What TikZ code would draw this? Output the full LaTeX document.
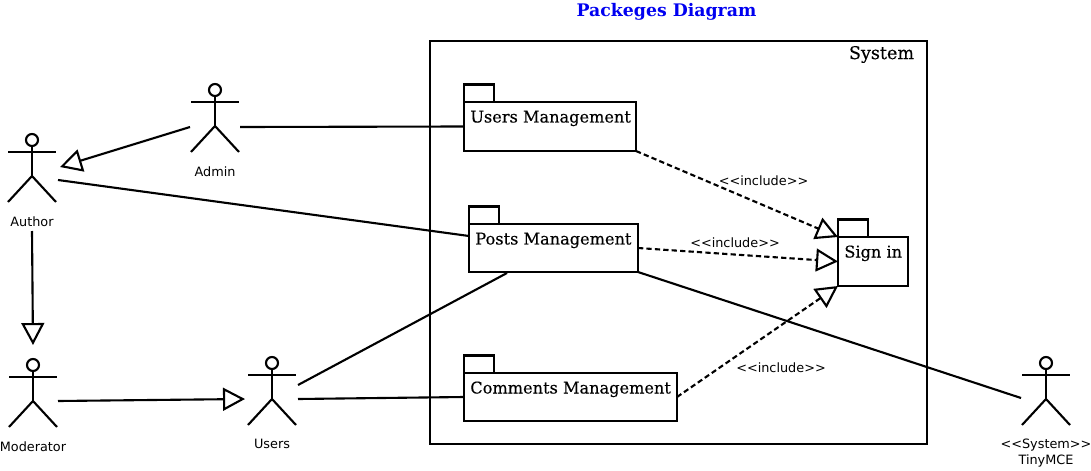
\documentclass[tikz,border=0pt]{standalone}
\usepackage{fontspec}
\setmainfont{DejaVu Serif}
\setsansfont{DejaVu Sans}
\newfontface\pkgfont[FakeBold=0.3]{DejaVu Serif}
\usetikzlibrary{arrows.meta}
\definecolor{titleblue}{RGB}{0,0,240}
\tikzset{
    line/.style={line width=1.2pt},
    inherit/.style={line, -{Triangle[open,length=12.5pt,width=13pt,line width=1.2pt]}},
    include/.style={inherit, dash pattern=on 3pt off 1.8pt},
    pkgbody/.style={draw, line width=1.2pt, inner sep=0pt, outer sep=0pt, anchor=north west},
    pkgtab/.style={draw, line width=1.2pt, inner sep=0pt, outer sep=0pt, anchor=south west, minimum width=0.6cm, minimum height=0.35cm},
    pkgname/.style={anchor=base west, inner sep=0pt, xshift=0.12cm, yshift=-0.41cm, font=\pkgfont\fontsize{9.2}{11}\selectfont},
    actorname/.style={font=\sffamily\fontsize{7.3}{9}\selectfont, align=center, inner sep=0pt},
    stereo/.style={font=\sffamily\fontsize{7.3}{9}\selectfont, inner sep=0pt},
    pics/actor/.style={code={
        \draw[line] (0,0) circle (6);
        \draw[line] (-24,12) -- (24,12);
        \draw[line] (0,6) -- (0,36);
        \draw[line] (-24,62) -- (0,36) -- (24,62);
        \node[actorname, anchor=north] (-name) at (0,76) {#1};
    }},
}
% package: name, top left of the body, width, height, text
\newcommand{\pkg}[6]{
    \node[pkgbody, minimum width=#4*0.02cm, minimum height=#5*0.02cm] (#1) at (#2,#3) {};
    \node[pkgtab] (#1Tab) at (#1.north west) {};
    \node[pkgname] (#1Name) at (#1.north west) {#6};
}
\begin{document}
\begin{tikzpicture}[x=0.02cm,y=-0.02cm]
    \useasboundingbox (0,0) rectangle (1091,470);
    \node[font=\fontsize{9.85}{11}\selectfont\bfseries, text=titleblue, inner sep=0pt] (title) at (666.5,11.5) {Packeges Diagram};

    \node[draw, line width=1.2pt, inner sep=0pt, outer sep=0pt, anchor=north west, minimum width=9.94cm, minimum height=8.06cm] (system) at (430,41) {};
    \node[anchor=east, inner sep=0pt, xshift=-0.25cm, yshift=-0.27cm, font=\pkgfont\fontsize{10}{12}\selectfont] (systemName) at (system.north east) {System};

    \pkg{users}{464}{102}{172}{49}{Users Management}
    \pkg{posts}{469}{224}{169}{48}{Posts Management}
    \pkg{comments}{464}{373}{213}{48}{Comments Management}
    \pkg{sign}{838}{237}{70}{49}{Sign in}

    \pic (admin) at (215,90) {actor={Admin}};
    \pic (author) at (32,140) {actor={Author}};
    \pic (moderator) at (33,365) {actor={Moderator}};
    \pic (usr) at (272,363) {actor={Users}};
    \pic (tiny) at (1046,363) {actor={<{}<System>{}>\\TinyMCE}};

    \coordinate (adminA) at (190,127);
    \coordinate (adminB) at (240,127);
    \coordinate (authorA) at (60,167);
    \coordinate (authorB) at (58,180);
    \coordinate (authorC) at (32,231);
    \coordinate (postsA) at (469,236);
    \coordinate (postsB) at (507,273);
    \coordinate (modA) at (33,345);
    \coordinate (modB) at (58,401);
    \coordinate (usrA) at (245,399);
    \coordinate (usrB) at (298,385);
    \coordinate (usrC) at (298,399);
    \coordinate (tinyA) at (1021,398);

    \draw[inherit] (adminA) -- (authorA);
    \draw[inherit] (authorC) -- (modA);
    \draw[inherit] (modB) -- (usrA);
    \draw[line] (adminB) -- (users.west);
    \draw[line] (authorB) -- (postsA);
    \draw[line] (usrB) -- (postsB);
    \draw[line] (usrC) -- (comments.west);
    \draw[line] (posts.south east) -- (tinyA);

    \draw[include] (users.south east) -- (sign.north west);
    \draw[include] (posts.east) -- (sign.west);
    \draw[include] (comments.east) -- (sign.south west);

    \node[stereo] (includeA) at (763.5,180.5) {<{}<include>{}>};
    \node[stereo] (includeB) at (735,242.5) {<{}<include>{}>};
    \node[stereo] (includeC) at (781,367.5) {<{}<include>{}>};
\end{tikzpicture}
\end{document}
